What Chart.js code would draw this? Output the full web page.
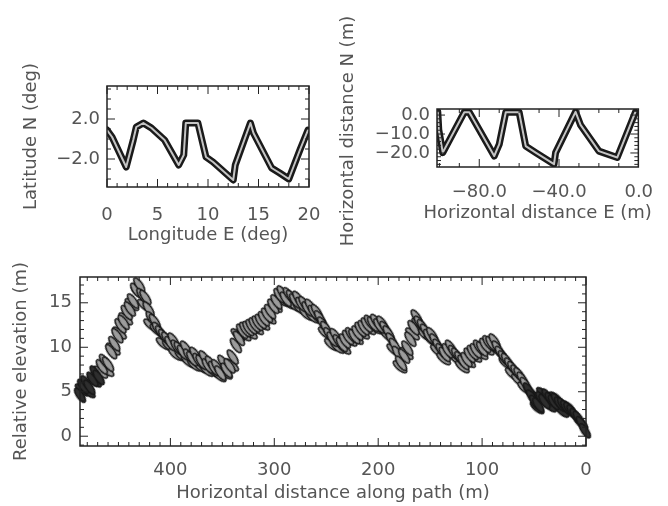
<!DOCTYPE html>
<html>
<head>
<meta charset="utf-8">
<script src="https://cdn.jsdelivr.net/npm/chart.js@4.4.0/dist/chart.umd.min.js"></script>
<style>
  body { margin: 0; background: #fff; }
  #wrap { position: relative; width: 668px; height: 506px; overflow: hidden; }
  #wrap canvas { position: absolute; }
</style>
</head>
<body>
<div id="wrap">
  <canvas id="latLon" width="340" height="210" style="left:0;top:40px"></canvas>
  <canvas id="neMap" width="348" height="264" style="left:320px;top:0"></canvas>
  <canvas id="profile" width="668" height="251" style="left:0;top:255px"></canvas>
</div>
<script>
// Track in geographic coords (top left)
const lon = [0, 0.5, 1.9, 2.6, 2.9, 3.6, 4.4, 5.7, 7.1, 7.6, 7.8, 9.0, 9.8, 10.5, 12.5, 12.7, 14.2, 14.5, 16.3, 17.1, 18.0, 19.1, 19.9];
const lat = [0.9, 0.2, -2.8, -0.1, 1.2, 1.6, 1.1, -0.1, -2.6, -1.6, 1.6, 1.6, -1.8, -2.3, -4.1, -2.6, 1.6, 0.6, -2.9, -3.4, -4.0, -1.1, 0.9];
const lonTicks = [0, 5, 10, 15, 20];
const latTicks = [-2, 2];

// Track in metres (top right)
const east = [-100.8, -100.3, -98.3, -87.5, -85.0, -72.5, -70.0, -66.7, -60.0, -56.7, -51.7, -42.5, -41.7, -31.7, -29.2, -20.0, -10.8, -1.7];
const north = [1.7, -7.8, -19.8, 1.5, 1.5, -21.6, -15.5, 1.5, 1.5, -16.4, -19.8, -25.9, -19.8, 1.7, -5.2, -19.0, -22.4, 1.5];
const eastTicks = [-80, -40, 0];
const northTicks = [0, -10, -20];

// Elevation profile (bottom)
const dist = [487, 484, 481, 478, 475, 472, 469, 466, 463, 460, 457, 454, 451, 448, 445, 442, 439, 436, 433, 430,
  427, 424, 421, 418, 415, 412, 409, 406, 403, 400, 397, 394, 391, 388, 385, 382, 379, 376, 373, 370,
  367, 364, 361, 358, 355, 352, 349, 346, 343, 340, 337, 334, 331, 328, 325, 322, 319, 316, 313, 310,
  307, 304, 301, 298, 295, 292, 289, 286, 283, 280, 277, 274, 271, 268, 265, 262, 259, 256, 253, 250,
  247, 244, 241, 238, 235, 232, 229, 226, 223, 220, 217, 214, 211, 208, 205, 202, 199, 196, 193, 190,
  187, 184, 181, 178, 175, 172, 169, 166, 163, 160, 157, 154, 151, 148, 145, 142, 139, 136, 133, 130,
  127, 124, 121, 118, 115, 112, 109, 106, 103, 100, 97, 94, 91, 88, 85, 82, 79, 76, 73, 70,
  67, 64, 61, 58, 55, 52, 49, 46, 43, 40, 37, 34, 31, 28, 25, 22, 19, 16, 13, 10, 7, 4, 1];
const elev = [4.6, 5.6, 6.0, 5.5, 6.4, 7.1, 6.6, 7.8, 8.4, 8.1, 9.5, 10.4, 11.3, 12.4, 12.8, 13.9, 14.3, 15.2, 16.4, 17.0,
  15.8, 15.6, 14.3, 13.2, 12.9, 12.0, 11.6, 11.2, 10.9, 10.4, 10.8, 10.0, 9.8, 9.4, 9.9, 9.0, 8.7, 9.2, 8.5, 8.3,
  8.8, 7.9, 8.2, 7.6, 7.8, 7.1, 8.3, 7.4, 7.9, 8.9, 10.2, 11.0, 11.8, 12.0, 12.1, 12.3, 12.5, 12.7, 12.9, 13.2,
  13.6, 14.0, 14.6, 15.1, 15.8, 16.1, 15.4, 15.9, 15.6, 15.2, 15.5, 14.8, 14.9, 14.3, 14.6, 13.9, 14.0, 13.3, 12.6, 12.1,
  11.4, 10.9, 11.3, 10.6, 10.3, 10.7, 11.1, 11.4, 11.2, 11.6, 12.0, 12.2, 12.5, 12.8, 12.6, 12.9, 12.4, 12.7, 12.1, 11.6,
  10.8, 10.2, 9.3, 8.2, 9.0, 9.9, 10.9, 12.2, 13.4, 12.7, 12.3, 11.8, 11.2, 11.4, 10.7, 10.1, 9.6, 9.2, 9.6, 10.0,
  9.4, 9.1, 8.7, 8.3, 8.6, 9.1, 9.4, 9.6, 10.0, 9.8, 10.2, 10.5, 10.4, 10.7, 9.9, 9.3, 8.8, 8.5, 8.0, 7.6,
  7.2, 6.9, 6.4, 5.8, 5.2, 4.4, 3.8, 3.5, 4.2, 3.9, 4.5, 4.1, 3.8, 4.0, 3.6, 3.5, 3.2, 3.0, 2.7, 2.3, 2.0, 1.4, 0.6];
// second pass of readings along the band (lower / upper edge of the smear)
const dist2 = [485, 479, 473, 467, 461, 455, 449, 443, 437, 431, 425, 419, 413, 407, 401, 395, 389, 383, 377, 371,
  365, 359, 353, 347, 341, 335, 329, 323, 317, 311, 305, 299, 293, 287, 281, 275, 269, 263, 257, 251,
  245, 239, 233, 227, 221, 215, 209, 203, 197, 191, 185, 179, 173, 167, 161, 155, 149, 143, 137, 131,
  125, 119, 113, 107, 101, 95, 89, 83, 77, 71, 65, 59, 53, 47, 41, 35, 29, 23, 17, 11, 5];
const elev2 = [5.2, 5.0, 6.2, 7.2, 7.4, 9.8, 11.6, 13.2, 14.8, 16.2, 14.7, 12.5, 11.9, 10.4, 10.1, 9.2, 9.0, 8.4, 8.0, 7.8,
  7.4, 7.3, 6.8, 7.1, 8.0, 11.4, 11.4, 11.6, 12.1, 12.6, 13.3, 14.6, 15.3, 15.0, 14.7, 14.3, 13.7, 13.4, 13.2, 11.6,
  10.3, 10.0, 9.9, 10.8, 11.0, 11.6, 12.1, 12.2, 12.0, 11.3, 9.7, 7.8, 9.3, 11.5, 12.6, 11.4, 10.8, 9.6, 8.7, 9.3,
  8.7, 7.8, 8.4, 9.0, 9.3, 9.8, 10.0, 9.4, 8.2, 7.0, 6.3, 5.4, 4.9, 3.2, 4.8, 3.4, 4.3, 2.8, 3.3, 2.4, 1.5];
const distTicks = [0, 100, 200, 300, 400];
const elevTicks = [0, 5, 10, 15];

Chart.defaults.font.family = "'DejaVu Sans', sans-serif";
Chart.defaults.font.size = 18;
Chart.defaults.color = '#555';

// box with inward major/minor ticks on all four sides
const frameTicks = {
  id: 'frameTicks',
  afterDatasetsDraw(chart, args, opts) {
    const { ctx, chartArea: a, scales: { x, y } } = chart;
    ctx.save();
    ctx.strokeStyle = '#222';
    ctx.lineWidth = 1;
    const each = (scale, step, majors, fn) => {
      const lo = Math.min(scale.min, scale.max), hi = Math.max(scale.min, scale.max);
      for (let i = Math.ceil(lo / step - 1e-6); i * step <= hi + 1e-6; i++) {
        const v = i * step;
        const major = majors.some(m => Math.abs(m - v) < 1e-6);
        fn(scale.getPixelForValue(v), major ? 8 : 4);
      }
    };
    ctx.beginPath();
    each(x, opts.xStep, opts.xMajor, (px, len) => {
      ctx.moveTo(px, a.bottom); ctx.lineTo(px, a.bottom - len);
      ctx.moveTo(px, a.top); ctx.lineTo(px, a.top + len);
    });
    each(y, opts.yStep, opts.yMajor, (py, len) => {
      ctx.moveTo(a.left, py); ctx.lineTo(a.left + len, py);
      ctx.moveTo(a.right, py); ctx.lineTo(a.right - len, py);
    });
    ctx.stroke();
    ctx.lineWidth = 1.5;
    ctx.strokeRect(a.left, a.top, a.right - a.left, a.bottom - a.top);
    ctx.restore();
  }
};

// axis titles at fixed spots, for the small box where the built-in title gets squeezed
const freeTitles = {
  id: 'freeTitles',
  afterDraw(chart, args, opts) {
    if (!opts.x) return;
    const { ctx, chartArea: a } = chart;
    ctx.save();
    ctx.fillStyle = '#555';
    ctx.font = "18px 'DejaVu Sans', sans-serif";
    ctx.textAlign = 'center';
    ctx.textBaseline = 'middle';
    ctx.fillText(opts.x.text, (a.left + a.right) / 2, opts.x.y);
    ctx.translate(opts.y.x, opts.y.y);
    ctx.rotate(-Math.PI / 2);
    ctx.fillText(opts.y.text, 0, 0);
    ctx.restore();
  }
};

function fmt(v, digits) {
  return v.toFixed(digits).replace('-', '\u2212');
}

function scale(cfg) {
  const horiz = cfg.axis === 'x';
  return {
    type: 'linear',
    min: cfg.min,
    max: cfg.max,
    reverse: !!cfg.reverse,
    grid: { display: false, drawTicks: false },
    border: { display: false },
    afterBuildTicks: s => { s.ticks = cfg.ticks.map(v => ({ value: v })); },
    afterFit: s => { if (horiz) s.height = cfg.size; else s.width = cfg.size; },
    ticks: {
      padding: cfg.tickPad,
      maxRotation: 0,
      autoSkip: false,
      callback: v => fmt(v, cfg.digits)
    },
    title: {
      display: !!cfg.title,
      text: cfg.title || '',
      color: '#555',
      padding: horiz ? { top: 0, bottom: cfg.titlePad } : { top: cfg.titlePad, bottom: 0 }
    }
  };
}

function trackSets(xs, ys) {
  const pts = xs.map((v, i) => ({ x: v, y: ys[i] }));
  // dataset 0 is drawn last, so the light core goes first
  return [
    { data: pts, showLine: true, borderColor: '#c4c4c4', borderWidth: 2, pointRadius: 0,
      borderJoinStyle: 'round', borderCapStyle: 'round' },
    { data: pts, showLine: true, borderColor: '#1a1a1a', borderWidth: 7, pointRadius: 0,
      borderJoinStyle: 'round', borderCapStyle: 'round' }
  ];
}

const common = {
  responsive: false,
  animation: false,
  events: [],
  plugins: { legend: { display: false }, tooltip: { enabled: false } }
};

new Chart(document.getElementById('latLon'), {
  type: 'scatter',
  data: { datasets: trackSets(lon, lat) },
  plugins: [frameTicks],
  options: {
    ...common,
    layout: { padding: { left: 0, top: 46, right: 31, bottom: 0 } },
    plugins: { ...common.plugins, frameTicks: { xStep: 1, xMajor: lonTicks, yStep: 1, yMajor: latTicks } },
    scales: {
      x: scale({ axis: 'x', min: 0, max: 20, ticks: lonTicks, digits: 0, title: 'Longitude E (deg)', size: 63, tickPad: 18, titlePad: 4 }),
      y: scale({ axis: 'y', min: -4.8, max: 5.3, ticks: latTicks, digits: 1, title: 'Latitude N (deg)', size: 107, tickPad: 7, titlePad: 21 })
    }
  }
});

new Chart(document.getElementById('neMap'), {
  type: 'scatter',
  data: { datasets: trackSets(east, north) },
  plugins: [frameTicks, freeTitles],
  options: {
    ...common,
    layout: { padding: { left: 0, top: 109, right: 29, bottom: 0 } },
    plugins: {
      ...common.plugins,
      frameTicks: { xStep: 10, xMajor: eastTicks, yStep: 2, yMajor: northTicks },
      freeTitles: { x: { text: 'Horizontal distance E (m)', y: 213 }, y: { text: 'Horizontal distance N (m)', x: 28, y: 131 } }
    },
    scales: {
      x: scale({ axis: 'x', min: -101.2, max: -0.2, ticks: eastTicks, digits: 1, size: 97, tickPad: 15 }),
      y: scale({ axis: 'y', min: -27.4, max: 3.2, ticks: northTicks, digits: 1, size: 117, tickPad: 7 })
    }
  }
});

function makeMark(fill) {
  const c = document.createElement('canvas');
  c.width = 20; c.height = 9;
  const g = c.getContext('2d');
  g.beginPath();
  g.ellipse(10, 4.5, 8.5, 3.2, 0, 0, Math.PI * 2);
  g.fillStyle = fill;
  g.fill();
  g.lineWidth = 1.4;
  g.strokeStyle = '#151515';
  g.stroke();
  return c;
}
const greyMark = makeMark('#9c9c9c');
const darkMark = makeMark('#2e2e2e');
const markStyle = c => {
  const d = c.raw ? c.raw.x : 200;
  return (d < 56 || d > 468) ? darkMark : greyMark;
};

new Chart(document.getElementById('profile'), {
  type: 'scatter',
  data: {
    datasets: [
      { data: dist.map((d, i) => ({ x: d, y: elev[i] })), pointStyle: markStyle, pointRotation: 55, pointRadius: 6, clip: false },
      { data: dist2.map((d, i) => ({ x: d, y: elev2[i] })), pointStyle: markStyle, pointRotation: 40, pointRadius: 6, clip: false }
    ]
  },
  plugins: [frameTicks],
  options: {
    ...common,
    layout: { padding: { left: 0, top: 22, right: 82, bottom: 0 } },
    plugins: { ...common.plugins, frameTicks: { xStep: 10, xMajor: distTicks, yStep: 1, yMajor: elevTicks } },
    scales: {
      x: scale({ axis: 'x', min: 0, max: 487, reverse: true, ticks: distTicks, digits: 0, title: 'Horizontal distance along path (m)', size: 60, tickPad: 14, titlePad: 2 }),
      y: scale({ axis: 'y', min: -1.1, max: 17.9, ticks: elevTicks, digits: 0, title: 'Relative elevation (m)', size: 80, tickPad: 8, titlePad: 11 })
    }
  }
});
</script>
</body>
</html>
